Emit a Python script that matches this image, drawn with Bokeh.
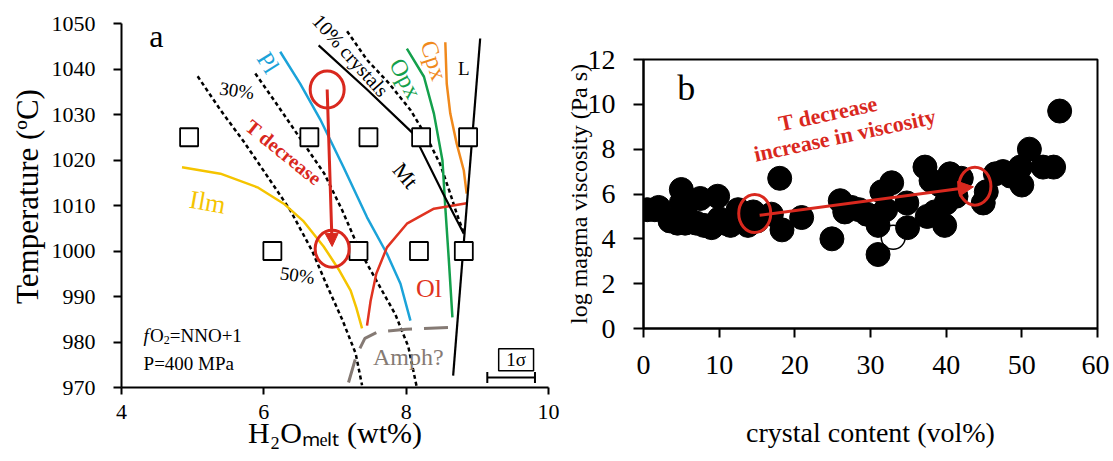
from bokeh.plotting import figure
from bokeh.layouts import row, column
from bokeh.models import Label, Arrow, NormalHead, Range1d
from bokeh.embed import file_html
from bokeh.resources import INLINE

# ---------------- Panel a data ----------------
exp_h2o = [4.95, 6.64, 7.47, 8.21, 8.87, 6.12, 7.33, 8.18, 8.81]
exp_T = [1025, 1025, 1025, 1025, 1025, 1000, 1000, 1000, 1000]

pl_h2o = [6.23, 6.51, 6.79, 7.12, 7.45, 7.73, 7.92, 8.06]
pl_T = [1043.8, 1036.8, 1029.0, 1018.4, 1007.4, 999.4, 992.8, 984.7]

ilm_h2o = [4.85, 5.39, 5.91, 6.28, 6.56, 6.84, 7.05, 7.22, 7.30, 7.38]
ilm_T = [1018.4, 1017.0, 1014.0, 1010.4, 1006.5, 1001.0, 996.0, 991.3, 987.5, 983.0]

opx_h2o = [8.01, 8.25, 8.39, 8.51, 8.55, 8.60, 8.65]
opx_T = [1044.5, 1038.3, 1030.2, 1019.9, 1009.6, 997.9, 985.4]

cpx_h2o = [8.55, 8.57, 8.62, 8.71, 8.81, 8.85]
cpx_T = [1045.9, 1036.8, 1030.2, 1023.6, 1017.7, 1012.6]

ol_h2o = [7.45, 7.50, 7.58, 7.73, 8.01, 8.39, 8.85]
ol_T = [983.6, 989.0, 995.0, 1000.8, 1006.0, 1009.3, 1010.5]

mt_h2o = [6.77, 7.45, 8.10, 8.52, 8.81]
mt_T = [1045.2, 1035.5, 1025.8, 1012.6, 1003.8]

liq_h2o = [9.04, 8.66]
liq_T = [1046.7, 972.6]

c10_h2o = [7.17, 7.45, 7.75, 8.06, 8.29, 8.48, 8.62, 8.71, 8.81]
c10_T = [1048.3, 1042.0, 1037.0, 1031.0, 1025.0, 1019.0, 1012.6, 1008.2, 1004.0]

c30_h2o = [5.88, 6.15, 6.50, 6.85, 7.10, 7.35, 7.60, 7.85, 8.03, 8.15]
c30_T = [1039, 1033, 1025, 1017, 1009, 1000, 993, 986, 979, 970]

c50_h2o = [5.07, 5.39, 5.72, 6.09, 6.37, 6.68, 6.87, 7.10, 7.29, 7.38]
c50_T = [1038.4, 1031, 1024, 1015.5, 1009, 1000, 993, 985, 977.5, 970.5]

amph_h2o = [7.19, 7.30, 7.42, 7.60, 8.00, 8.62]
amph_T = [971.1, 977.0, 980.8, 982.2, 982.8, 983.2]

path_h2o = [6.89, 6.96]      # T-decrease path (start, end)
path_T = [1035.5, 1001.0]

a_xticks = [4, 6, 8, 10]
a_yticks = [970, 980, 990, 1000, 1010, 1020, 1030, 1040, 1050]

# ---------------- Panel b data ----------------
crystal = [0.5, 1.5, 2.0, 3.5, 4.5, 5.0, 5.0, 5.5, 5.5, 7.0, 7.5, 8.0, 9.0, 9.8, 10.0,
           10.7, 11.5, 12.5, 13.0, 13.8, 14.5, 15.0, 16.9, 18.0, 18.3, 20.9, 24.9, 26.0,
           26.6, 27.5, 28.5, 29.5, 30.5, 31.0, 31.5, 32.0, 32.8, 31.0, 34.8, 34.9, 37.2,
           37.5, 38.0, 38.5, 39.2, 39.8, 40.0, 40.5, 41.3, 42.0, 44.9, 45.3, 46.5, 47.5,
           48.5, 49.8, 50.0, 51.0, 52.8, 54.2, 55.0]
log_visc = [5.3, 5.3, 5.4, 4.8, 4.7, 6.2, 5.6, 5.2, 4.7, 4.7, 5.8, 4.6, 4.5, 5.9, 4.9,
            4.7, 4.6, 5.3, 5.1, 4.6, 5.2, 4.8, 5.1, 6.7, 4.4, 4.95, 4.0, 5.7,
            5.2, 5.4, 5.3, 5.1, 5.0, 4.6, 6.1, 5.3, 6.5, 3.3, 5.6, 4.5, 7.2,
            5.0, 6.6, 5.2, 6.4, 4.6, 5.6, 6.9, 5.9, 6.7, 5.6, 6.1, 6.9, 7.0,
            6.8, 7.2, 6.4, 8.0, 7.2, 7.2, 9.7]
open_crystal = [33.0]
open_visc = [4.07]

trend_crystal = [15.35, 43.6]   # arrow start/end
trend_visc = [5.05, 6.32]
circle_crystal = [14.7, 43.8]
circle_visc = [5.13, 6.35]

b_xticks = [0, 10, 20, 30, 40, 50, 60]
b_yticks = [0, 2, 4, 6, 8, 10, 12]

SERIF = "Liberation Serif"
RED = "#d9281e"


def style_axes(p, tick_size, tick_out, label_standoff):
    p.grid.visible = False
    p.axis.minor_tick_line_color = None
    p.axis.major_tick_in = 0
    p.axis.major_tick_out = tick_out
    p.axis.axis_line_width = 2
    p.axis.major_tick_line_width = 2
    p.axis.major_label_text_font = SERIF
    p.axis.major_label_text_font_size = tick_size
    p.axis.major_label_text_color = "black"
    p.axis.axis_label_text_font = SERIF
    p.axis.axis_label_text_font_style = "normal"
    p.axis.axis_label_text_color = "black"
    p.axis.major_label_standoff = label_standoff


def lab(p, x, y, text, size, color="black", angle=0, style="normal", align="center",
        baseline="middle"):
    p.add_layout(Label(x=x, y=y, text=text, text_font=SERIF, text_font_size=size,
                       text_color=color, angle=angle, angle_units="deg",
                       text_font_style=style, text_align=align, text_baseline=baseline))


# ================= Panel a =================
# frame extends a little above 1050 so that labels there are not clipped;
# the axis itself is bounded to 970-1050
pa = figure(frame_width=427, frame_height=382, x_range=Range1d(4, 10),
            y_range=Range1d(970, 1053.96), output_backend="svg", toolbar_location=None,
            min_border_left=121, min_border_right=14, min_border_top=5,
            min_border_bottom=71)
pa.outline_line_color = None
pa.background_fill_color = None
pa.border_fill_color = None
style_axes(pa, "22px", 8, 18)
pa.xaxis.ticker = a_xticks
pa.yaxis.ticker = a_yticks
pa.yaxis.bounds = (970, 1050)
pa.xaxis.major_tick_out = 7
pa.xaxis.major_label_standoff = 10
pa.yaxis.axis_label = "Temperature (ºC)"
pa.yaxis.axis_label_text_font_size = "31px"
pa.yaxis.axis_label_standoff = 4
pa.xaxis.axis_label = "H\u2082O\u2098\u2091\u2097\u209c (wt%)"
pa.xaxis.axis_label_text_font_size = "30px"
pa.xaxis.axis_label_standoff = -6

dash = "4 3"
pa.line(c50_h2o, c50_T, line_color="black", line_width=2.5, line_dash=dash)
pa.line(c30_h2o, c30_T, line_color="black", line_width=2.5, line_dash=dash)
pa.line(c10_h2o, c10_T, line_color="black", line_width=2.5, line_dash=dash)
pa.line(ilm_h2o, ilm_T, line_color="#f5c400", line_width=2.5)
pa.line(pl_h2o, pl_T, line_color="#1ba3d9", line_width=2.5)
pa.line(opx_h2o, opx_T, line_color="#14a04c", line_width=2.5)
pa.line(cpx_h2o, cpx_T, line_color="#f0891c", line_width=2.5)
pa.line(ol_h2o, ol_T, line_color="#e03321", line_width=2.5)
pa.line(mt_h2o, mt_T, line_color="black", line_width=2.2)
pa.line(liq_h2o, liq_T, line_color="black", line_width=2.2)
pa.line(amph_h2o, amph_T, line_color="#857a74", line_width=3, line_dash="24 12")

pa.scatter(exp_h2o, exp_T, marker="square", size=18, fill_color="white",
           line_color="black", line_width=1.8)

pa.ellipse(path_h2o, [path_T[0], path_T[1] - 0.5], width=34, height=37,
           width_units="screen", height_units="screen", fill_color=None,
           line_color=RED, line_width=3)
pa.add_layout(Arrow(end=NormalHead(size=13, fill_color=RED, line_color=RED),
                    x_start=path_h2o[0], y_start=path_T[0], x_end=path_h2o[1],
                    y_end=path_T[1], line_color=RED, line_width=3))

# error bar box "1σ"
pa.quad(left=[9.30], right=[9.79], bottom=[973.7], top=[978.5], fill_color=None,
        line_color="black", line_width=1.5)
pa.segment(x0=[9.14], y0=[972.2], x1=[9.81], y1=[972.2], line_color="black", line_width=2)
pa.segment(x0=[9.14, 9.81], y0=[971.0, 971.0], x1=[9.14, 9.81], y1=[973.4, 973.4],
           line_color="black", line_width=2)
lab(pa, 9.545, 976.1, "1σ", "19px")

lab(pa, 4.49, 1047.3, "a", "32px")
lab(pa, 6.06, 1041.4, "Pl", "24px", color="#1ba3d9", angle=-58)
lab(pa, 7.99, 1037.9, "Opx", "24px", color="#14a04c", angle=-62)
lab(pa, 8.39, 1041.9, "Cpx", "24px", color="#f0891c", angle=-72)
lab(pa, 7.22, 1043.0, "10% crystals", "20px", angle=-48)
lab(pa, 7.99, 1016.6, "Mt", "22px", angle=-50)
lab(pa, 8.81, 1040.1, "L", "19px")
lab(pa, 5.21, 1010.7, "Ilm", "26px", color="#f5c400", angle=-10)
lab(pa, 8.32, 991.7, "Ol", "26px", color="#e03321")
lab(pa, 5.62, 1035.3, "30%", "19px", angle=-8)
lab(pa, 6.47, 994.7, "50%", "19px", angle=-8)
lab(pa, 6.28, 1021.7, "T decrease", "20px", color=RED, angle=-39, style="bold")
lab(pa, 8.03, 976.8, "Amph?", "24px", color="#857a74")

# fO2 = NNO+1 and P
fx0 = 4.31
lab(pa, fx0, 981.4, "f", "19px", style="italic", align="left", baseline="alphabetic")
lab(pa, fx0 + 6.5 / 71.2, 981.4, "O", "19px", align="left", baseline="alphabetic")
lab(pa, fx0 + 20.2 / 71.2, 980.4, "2", "12px", align="left", baseline="alphabetic")
lab(pa, fx0 + 26.2 / 71.2, 981.4, "=NNO+1", "19px", align="left", baseline="alphabetic")
lab(pa, fx0, 975.2, "P=400 MPa", "19px", align="left", baseline="alphabetic")

# ================= Panel b =================
pb = figure(frame_width=454, frame_height=269, x_range=Range1d(0, 60),
            y_range=Range1d(0, 12), output_backend="svg", toolbar_location=None,
            min_border_left=77, min_border_right=12, min_border_top=59,
            min_border_bottom=130)
pb.outline_line_color = "black"
pb.outline_line_width = 2
pb.background_fill_color = None
pb.border_fill_color = None
style_axes(pb, "28px", 10, 18)
pb.xaxis.major_tick_out = 9
pb.xaxis.major_label_standoff = 18
pb.xaxis.ticker = b_xticks
pb.yaxis.ticker = b_yticks
pb.yaxis.axis_label = "log magma viscosity (Pa s)"
pb.yaxis.axis_label_text_font_size = "24px"
pb.yaxis.axis_label_standoff = -7
pb.xaxis.axis_label = "crystal content (vol%)"
pb.xaxis.axis_label_text_font_size = "28px"
pb.xaxis.axis_label_standoff = 40

pb.scatter(open_crystal, open_visc, size=24, fill_color="white", line_color="black",
           line_width=1.5)
pb.scatter(crystal, log_visc, size=24, fill_color="black", line_color="black")

pb.ellipse(circle_crystal, circle_visc, width=32, height=38, width_units="screen",
           height_units="screen", fill_color=None, line_color=RED, line_width=3)
pb.add_layout(Arrow(end=NormalHead(size=15, fill_color=RED, line_color=RED),
                    x_start=trend_crystal[0], y_start=trend_visc[0],
                    x_end=trend_crystal[1], y_end=trend_visc[1],
                    line_color=RED, line_width=3))

lab(pb, 5.65, 10.72, "b", "36px")
lab(pb, 24.4, 9.59, "T decrease", "22px", color=RED, angle=12, style="bold")
lab(pb, 26.6, 8.62, "increase in viscosity", "22px", color=RED, angle=12, style="bold")

layout = row(column(pa), column(pb))
open("out.html", "w").write(file_html(layout, INLINE))
